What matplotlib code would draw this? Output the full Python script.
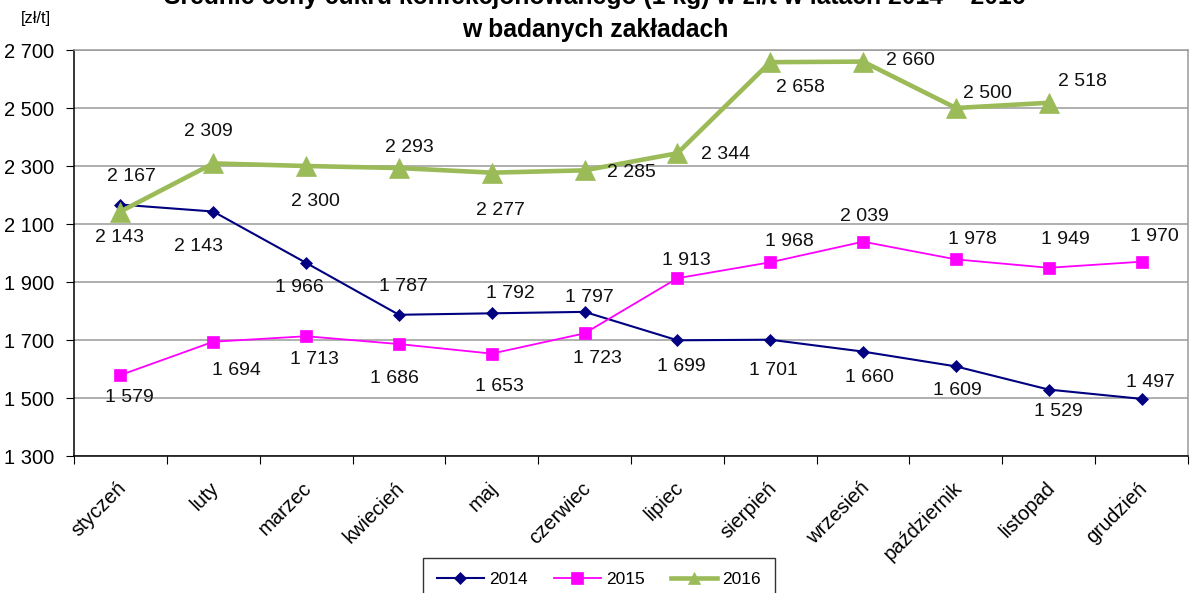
"""Średnie ceny cukru konfekcjonowanego 2014-2016 - line chart."""
import matplotlib
matplotlib.use("Agg")
import matplotlib.pyplot as plt
import matplotlib.transforms as mtransforms
from matplotlib.lines import Line2D
from matplotlib.ticker import FuncFormatter, FixedLocator
import numpy as np

plt.rcParams["font.family"] = ["Liberation Sans", "DejaVu Sans"]

months = ["styczeń", "luty", "marzec", "kwiecień", "maj", "czerwiec",
          "lipiec", "sierpień", "wrzesień", "październik", "listopad", "grudzień"]
price_2014 = [2167, 2143, 1966, 1787, 1792, 1797, 1699, 1701, 1660, 1609, 1529, 1497]
price_2015 = [1579, 1694, 1713, 1686, 1653, 1723, 1913, 1968, 2039, 1978, 1949, 1970]
price_2016 = [2143, 2309, 2300, 2293, 2277, 2285, 2344, 2658, 2660, 2500, 2518]

# label offsets in pixels (dx, dy up)
off_2014 = [(11, 28), (-15, -35), (-7, -25), (5, 28), (19, 20), (5, 14),
            (4, -26), (3, -31), (6, -26), (1, -24), (10, -22), (9, 16)]
off_2015 = [(9, -22), (23, -29), (8, -23), (-4, -34), (8, -33), (13, -25),
            (9, 18), (19, 21), (1, 25), (16, 20), (17, 28), (13, 25)]
off_2016 = [(-1, -26), (-5, 32), (9, -36), (10, 21), (9, -38), (47, -2),
            (48, -1), (30, -25), (47, 1), (32, 14), (34, 21)]


def fmt(v):
    return f"{int(v):,}".replace(",", " ")


fig = plt.figure(figsize=(11.92, 5.93), dpi=100)
ax = fig.add_axes([74 / 1192, 1 - 456 / 593, (1188 - 74) / 1192, (456 - 50) / 593])

series = [
    (price_2014, off_2014, "2014", dict(color="#000080", lw=1.5, marker="D", ms=6.3, mew=0.5)),
    (price_2015, off_2015, "2015", dict(color="#FF00FF", lw=1.3, marker="s", ms=9.3, mew=0.5)),
    (price_2016, off_2016, "2016", dict(color="#9BBB59", lw=3.3, marker="^", ms=15, mew=0.5)),
]

for vals, offs, name, style in series:
    x = np.arange(len(vals))
    ax.plot(x, vals, zorder=3, **style)
    for xi, v, (dx, dy) in zip(x, vals, offs):
        ax.annotate(fmt(v), (xi, v), xytext=(dx, dy), textcoords="offset pixels",
                    ha="center", va="center", fontsize=14, color="#111111", zorder=4)

ax.set_xlim(-0.5, 11.5)
ax.set_ylim(1300, 2700)
ax.set_yticks(np.arange(1300, 2701, 200))
ax.yaxis.set_major_formatter(FuncFormatter(lambda v, p: fmt(v)))
ax.grid(axis="y", color="#9a9a9a", lw=1.1, zorder=0)

ax.xaxis.set_major_locator(FixedLocator(np.arange(-0.5, 12, 1)))
ax.xaxis.set_minor_locator(FixedLocator(np.arange(12)))
ax.set_xticklabels([], minor=False)
ax.set_xticklabels(months, minor=True, rotation=45, ha="right", va="center",
                   rotation_mode="anchor", fontsize=14.5)
ax.tick_params(axis="x", which="major", length=6, direction="out", color="black")
ax.tick_params(axis="x", which="minor", length=0, pad=21)
ax.tick_params(axis="y", length=6, direction="out", color="black", pad=8, labelsize=14.5)

shift = mtransforms.ScaledTranslation(3 / 100, 0, fig.dpi_scale_trans)
for lbl in ax.xaxis.get_minorticklabels():
    lbl.set_transform(lbl.get_transform() + shift)

for side in ("left", "bottom"):
    ax.spines[side].set_color("black")
    ax.spines[side].set_linewidth(1.1)
for side in ("top", "right"):
    ax.spines[side].set_color("#9a9a9a")
    ax.spines[side].set_linewidth(1.1)

fig.text(0.499, 1 - 4 / 593,
         "Średnie ceny cukru konfekcjonowanego (1 kg) w zł/t w latach 2014 – 2016",
         ha="center", va="baseline", fontsize=17.8, fontweight="bold")
fig.text(0.499, 1 - 37 / 593, "w badanych zakładach",
         ha="center", va="baseline", fontsize=17.8, fontweight="bold")
fig.text(36 / 1192, 1 - 18 / 593, "[zł/t]", ha="center", va="center", fontsize=12)

handles = [
    Line2D([], [], color="#000080", lw=1.5, marker="D", ms=6, mew=0.5),
    Line2D([], [], color="#FF00FF", lw=1.3, marker="s", ms=8, mew=0.5),
    Line2D([], [], color="#9BBB59", lw=3.3, marker="^", ms=8, mew=0.5),
]
fig.legend(handles, ["2014", "2015", "2016"], loc="upper left",
           bbox_to_anchor=(423 / 1192, 1 - 558 / 593), ncol=3, fontsize=12.5,
           frameon=True, fancybox=False, edgecolor="black", borderpad=0.8,
           handlelength=2.7, handletextpad=0.3, columnspacing=1.5, numpoints=1,
           borderaxespad=0)

fig.savefig("out.png", dpi=100)
